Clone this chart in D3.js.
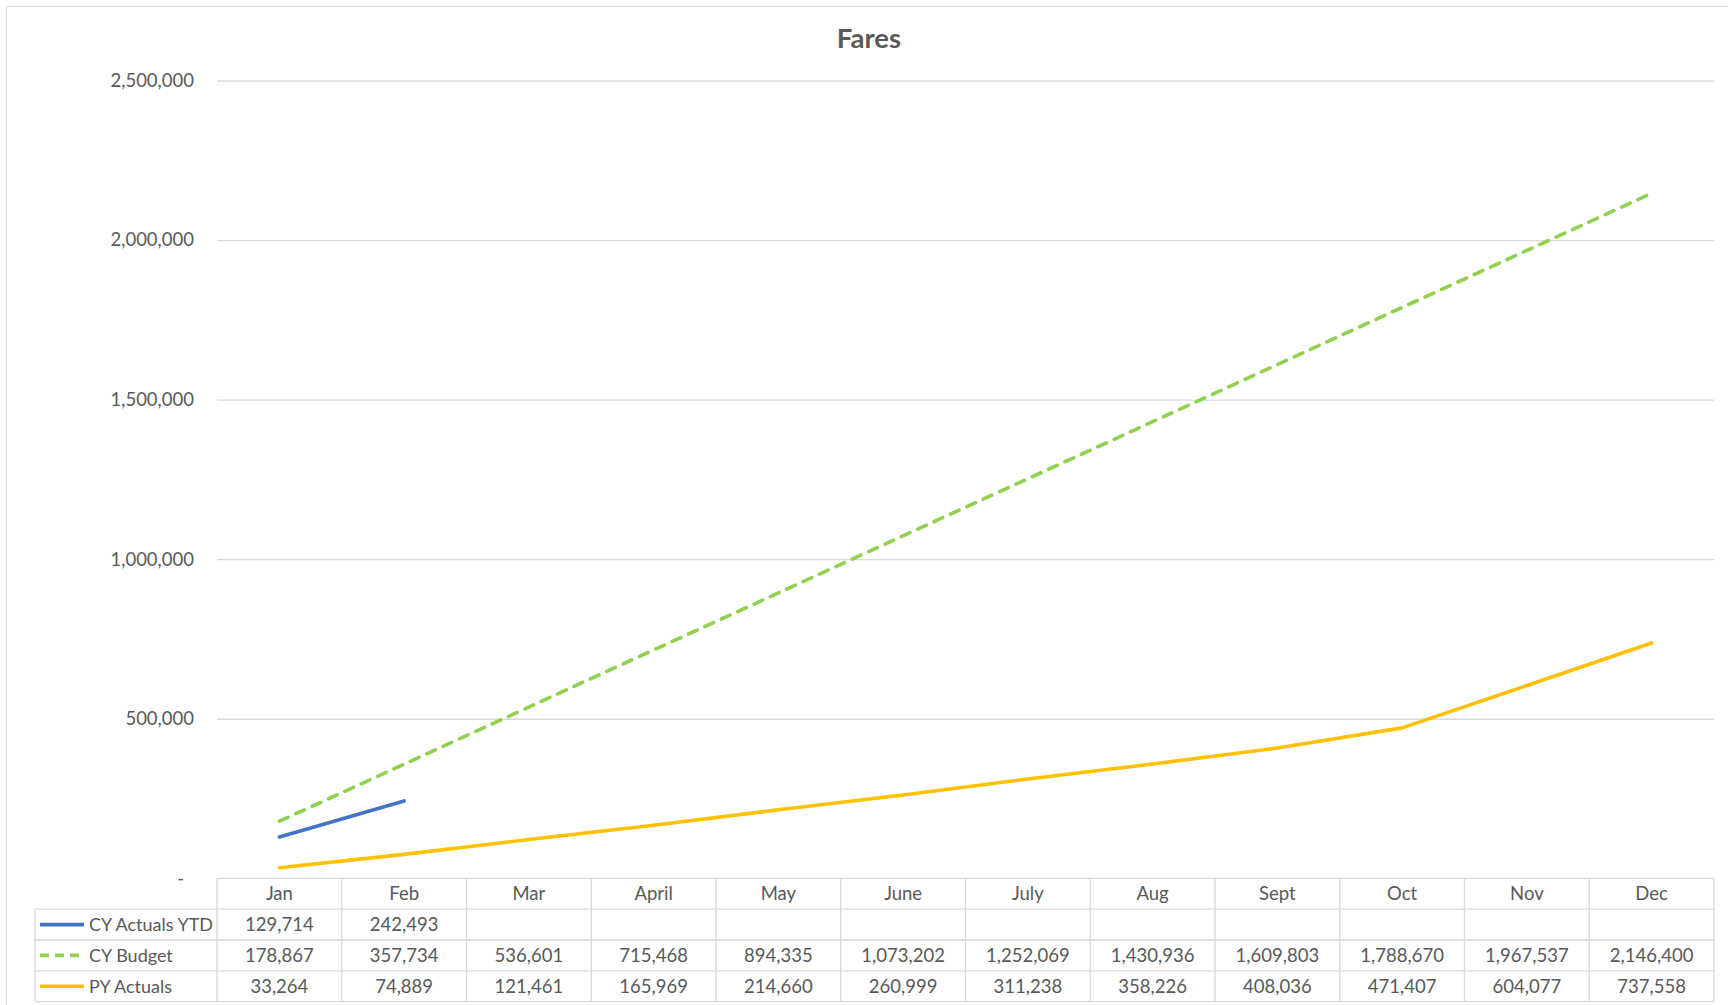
<!DOCTYPE html>
<html>
<head>
<meta charset="utf-8">
<script src="https://cdn.jsdelivr.net/npm/d3@7"></script>
<style>
  html, body { margin: 0; padding: 0; background: #fff; }
  svg { display: block; font-family: Lato, "Open Sans", sans-serif; }
</style>
</head>
<body>
<svg id="chart" width="1728" height="1005"></svg>
<script>
// Monthly fare revenue, cumulative
const months = ["Jan", "Feb", "Mar", "April", "May", "June", "July", "Aug", "Sept", "Oct", "Nov", "Dec"];
const cyActualsYTD = [129714, 242493, null, null, null, null, null, null, null, null, null, null];
const cyBudget = [178867, 357734, 536601, 715468, 894335, 1073202, 1252069, 1430936, 1609803, 1788670, 1967537, 2146400];
const pyActuals = [33264, 74889, 121461, 165969, 214660, 260999, 311238, 358226, 408036, 471407, 604077, 737558];
const yTicks = [0, 500000, 1000000, 1500000, 2000000, 2500000];
const seriesNames = ["CY Actuals YTD", "CY Budget", "PY Actuals"];

const series = [
  { name: seriesNames[0], values: cyActualsYTD, color: "#4472C4", dash: null },
  { name: seriesNames[1], values: cyBudget, color: "#92D050", dash: "9.5,8.5" },
  { name: seriesNames[2], values: pyActuals, color: "#FFC000", dash: null }
];

const svg = d3.select("#chart");
const textColor = "#595959";
const gridColor = "#d9d9d9";
const fontSize = 18.5;

// chart frame
svg.append("rect")
  .attr("x", 6.5).attr("y", 6.5)
  .attr("width", 1740).attr("height", 1010)
  .attr("fill", "none").attr("stroke", gridColor).attr("stroke-width", 1);

// plot area
const plot = { left: 217, right: 1714, top: 80.5, bottom: 878.3 };
const rowH = 30.85;
const tableLeft = 35;

const x = d3.scaleBand().domain(months).range([plot.left, plot.right]).padding(0);
const y = d3.scaleLinear().domain([0, 2500000]).range([plot.bottom, plot.top]);
const cx = m => x(m) + x.bandwidth() / 2;

// title
svg.append("text")
  .attr("x", 869).attr("y", 48)
  .attr("text-anchor", "middle")
  .attr("font-size", 27.5).attr("font-weight", "bold")
  .attr("fill", textColor)
  .text("Fares");

// horizontal gridlines
svg.append("g")
  .attr("transform", `translate(${plot.left},0)`)
  .call(d3.axisLeft(y).tickValues(yTicks.filter(d => d > 0)).tickSize(-(plot.right - plot.left)).tickFormat(""))
  .call(g => g.select(".domain").remove())
  .call(g => g.selectAll("line").attr("stroke", gridColor).attr("stroke-width", 1.3));

// value axis labels
const yAxis = svg.append("g")
  .attr("transform", `translate(${plot.left},0)`)
  .call(d3.axisLeft(y).tickValues(yTicks).tickSize(0).tickPadding(23)
    .tickFormat(d => d === 0 ? "-" : d3.format(",")(d)))
  .call(g => g.select(".domain").remove());
yAxis.selectAll("text")
  .attr("font-family", "Lato, 'Open Sans', sans-serif")
  .attr("font-size", fontSize)
  .attr("fill", textColor)
  .attr("dx", d => d === 0 ? -10 : 0);

// series lines
const line = d3.line()
  .defined(d => d.v != null)
  .x(d => cx(d.m))
  .y(d => y(d.v));

svg.append("g").selectAll("path")
  .data(series)
  .join("path")
  .attr("d", s => line(months.map((m, i) => ({ m, v: s.values[i] }))))
  .attr("fill", "none")
  .attr("stroke", s => s.color)
  .attr("stroke-width", 3.6)
  .attr("stroke-linecap", "round")
  .attr("stroke-linejoin", "round")
  .attr("stroke-dasharray", s => s.dash);

// data table
const table = svg.append("g");
const lineAttrs = sel => sel.attr("stroke", gridColor).attr("stroke-width", 1.3);

// header row top (category axis line)
table.append("line")
  .attr("x1", plot.left).attr("x2", plot.right)
  .attr("y1", plot.bottom).attr("y2", plot.bottom)
  .call(lineAttrs);

// row separators
table.selectAll("line.row")
  .data(d3.range(1, series.length + 2))
  .join("line").attr("class", "row")
  .attr("x1", tableLeft).attr("x2", plot.right)
  .attr("y1", i => plot.bottom + i * rowH).attr("y2", i => plot.bottom + i * rowH)
  .call(lineAttrs);

// column separators
const colEdges = months.map(m => x(m)).concat([plot.right]);
table.selectAll("line.col")
  .data(colEdges)
  .join("line").attr("class", "col")
  .attr("x1", d => d).attr("x2", d => d)
  .attr("y1", plot.bottom).attr("y2", plot.bottom + (series.length + 1) * rowH)
  .call(lineAttrs);

// left edge of the legend column
table.append("line")
  .attr("x1", tableLeft).attr("x2", tableLeft)
  .attr("y1", plot.bottom + rowH).attr("y2", plot.bottom + (series.length + 1) * rowH)
  .call(lineAttrs);

// month headers
table.selectAll("text.month")
  .data(months)
  .join("text").attr("class", "month")
  .attr("x", m => cx(m))
  .attr("y", plot.bottom + rowH / 2)
  .attr("dy", "0.36em")
  .attr("text-anchor", "middle")
  .attr("font-size", fontSize)
  .attr("fill", textColor)
  .text(m => m);

// series rows
const rows = table.selectAll("g.srow")
  .data(series)
  .join("g").attr("class", "srow")
  .attr("transform", (s, i) => `translate(0,${plot.bottom + (i + 1) * rowH + rowH / 2})`);

rows.append("line")
  .attr("x1", 40).attr("x2", 84)
  .attr("y1", 0).attr("y2", 0)
  .attr("stroke", s => s.color)
  .attr("stroke-width", 3.6)
  .attr("stroke-dasharray", s => s.dash ? "9,6" : null);

rows.append("text")
  .attr("x", 89)
  .attr("dy", "0.36em")
  .attr("font-size", 18)
  .attr("fill", textColor)
  .text(s => s.name);

rows.selectAll("text.val")
  .data(s => months.map((m, i) => ({ m, v: s.values[i] })).filter(d => d.v != null))
  .join("text").attr("class", "val")
  .attr("x", d => cx(d.m))
  .attr("dy", "0.36em")
  .attr("text-anchor", "middle")
  .attr("font-size", fontSize)
  .attr("fill", textColor)
  .text(d => d3.format(",")(d.v));
</script>
</body>
</html>
